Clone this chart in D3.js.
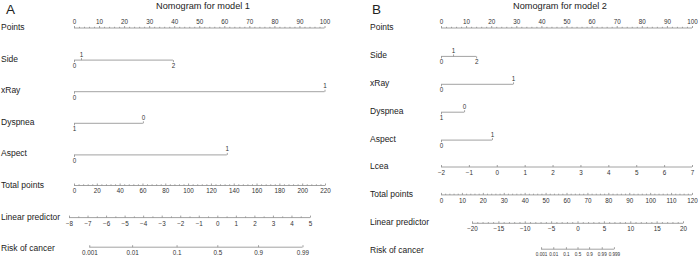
<!DOCTYPE html>
<html>
<head>
<meta charset="utf-8">
<script src="https://cdn.jsdelivr.net/npm/d3@7"></script>
<style>
  body { margin: 0; background: #fff; }
  svg text { font-family: "Liberation Sans", Arial, Helvetica, sans-serif; fill: #222; }
  .axis path, .axis line { stroke: #8a8a8a; stroke-width: 0.8; }
  .axis .domain { display: none; }
  .axis text { font-size: 6.3px; fill: #333; }
  .bar { stroke: #8a8a8a; stroke-width: 0.8; }
  .row-label { font-size: 8.5px; }
  .title { font-size: 9.2px; }
  .panel { font-size: 13.5px; }
</style>
</head>
<body>
<svg id="chart" width="698" height="258"></svg>
<script>
// ---- model 1 (panel A) ----
const rowsA = ['Points', 'Side', 'xRay', 'Dyspnea', 'Aspect', 'Total points', 'Linear predictor', 'Risk of cancer'];
const pointTicks = d3.range(0, 101, 10);
const sideA = [{ level: '0', pts: 0 }, { level: '1', pts: 2.8 }, { level: '2', pts: 39.5 }];
const xRayA = [{ level: '0', pts: 0 }, { level: '1', pts: 100 }];
const dyspneaA = [{ level: '1', pts: 0 }, { level: '0', pts: 27.5 }];
const aspectA = [{ level: '0', pts: 0 }, { level: '1', pts: 61 }];
const totalTicksA = d3.range(0, 221, 20);
const lpTicksA = d3.range(-8, 6, 1);
const riskTicksA = [0.001, 0.01, 0.1, 0.5, 0.9, 0.99];

// ---- model 2 (panel B) ----
const rowsB = ['Points', 'Side', 'xRay', 'Dyspnea', 'Aspect', 'Lcea', 'Total points', 'Linear predictor', 'Risk of cancer'];
const sideB = [{ level: '0', pts: 0 }, { level: '1', pts: 4.8 }, { level: '2', pts: 14 }];
const xRayB = [{ level: '0', pts: 0 }, { level: '1', pts: 28.7 }];
const dyspneaB = [{ level: '1', pts: 0 }, { level: '0', pts: 9.2 }];
const aspectB = [{ level: '0', pts: 0 }, { level: '1', pts: 20.3 }];
const lceaTicksB = d3.range(-2, 8, 1);
const totalTicksB = d3.range(0, 121, 10);
const lpTicksB = d3.range(-20, 21, 5);
const riskTicksB = [0.001, 0.01, 0.1, 0.5, 0.9, 0.99, 0.999];

const svg = d3.select('#chart');
const logit = p => Math.log(p / (1 - p));
const minus = d => d3.format('d')(d).replace('-', '\u2212');

// minor ticks between labelled ticks
function minorTicks(ticks, n) {
  const out = [];
  for (let i = 0; i < ticks.length - 1; i++) {
    const step = (ticks[i + 1] - ticks[i]) / n;
    for (let k = 1; k < n; k++) out.push(ticks[i] + k * step);
  }
  return out;
}

// continuous axis: line + minor ticks + labelled ticks, labels above or below
function contAxis(g, scale, y, ticks, nMinor, above, fmt) {
  const a = g.append('g').attr('class', 'axis').attr('transform', `translate(0,${y})`);
  a.append('line').attr('class', 'bar')
      .attr('x1', scale(ticks[0]))
      .attr('x2', scale(ticks[ticks.length - 1]));
  if (nMinor > 1) {
    a.append('g').call(d3.axisBottom(scale).tickValues(minorTicks(ticks, nMinor))
        .tickSize(-1.2).tickSizeOuter(0).tickFormat(''));
  }
  const ax = above ? d3.axisTop(scale).tickSize(2).tickPadding(2)
                   : d3.axisBottom(scale).tickSize(-2).tickPadding(3.5);
  a.append('g').call(ax.tickValues(ticks).tickSizeOuter(0).tickFormat(fmt || (d => d)));
  return a;
}

// categorical axis: labels alternate below / above, ticks point toward the label
function catAxis(g, scale, y, levels) {
  const a = g.append('g').attr('class', 'axis').attr('transform', `translate(0,${y})`);
  const ext = d3.extent(levels, d => d.pts);
  a.append('line').attr('class', 'bar').attr('x1', scale(ext[0])).attr('x2', scale(ext[1]));
  const sorted = levels.slice().sort((p, q) => p.pts - q.pts);
  const below = sorted.filter((d, i) => i % 2 === 0);
  const above = sorted.filter((d, i) => i % 2 === 1);
  a.append('g').call(d3.axisBottom(scale).tickValues(below.map(d => d.pts)).tickSize(2).tickPadding(1.5)
      .tickSizeOuter(0).tickFormat((d, i) => below[i].level));
  a.append('g').call(d3.axisTop(scale).tickValues(above.map(d => d.pts)).tickSize(2).tickPadding(1.5)
      .tickSizeOuter(0).tickFormat((d, i) => above[i].level));
}

function rowLabels(g, rows, x, y0, gap) {
  g.selectAll('.row-label').data(rows).join('text')
      .attr('class', 'row-label')
      .attr('x', x)
      .attr('y', (d, i) => y0 + i * gap)
      .attr('dy', '0.35em')
      .text(d => d);
}

// ---------- panel A ----------
const gA = svg.append('g');
const gapA = 31.6;
const yA = i => 27 + i * gapA;
gA.append('text').attr('class', 'panel').attr('x', 6).attr('y', 14).text('A');
gA.append('text').attr('class', 'title').attr('x', 203).attr('y', 8.5).attr('text-anchor', 'middle')
    .text('Nomogram for model 1');
rowLabels(gA, rowsA, 1, 27, gapA);

const ptsA = d3.scaleLinear().domain([0, 100]).range([74, 324.5]);
const totA = d3.scaleLinear().domain([0, 220]).range([74, 325]);
const lpA = d3.scaleLinear().domain([-8, 5]).range([69, 310]);

contAxis(gA, ptsA, yA(0) + 1, pointTicks, 5, true);
catAxis(gA, ptsA, yA(1) + 1.5, sideA);
catAxis(gA, ptsA, yA(2) + 1.5, xRayA);
catAxis(gA, ptsA, yA(3) + 1.5, dyspneaA);
catAxis(gA, ptsA, yA(4) + 1.5, aspectA);
contAxis(gA, totA, yA(5) + 0.5, totalTicksA, 5, false);
contAxis(gA, lpA, yA(6) + 1, lpTicksA, 2, false, minus);
contAxis(gA, lpA, yA(7) - 1, riskTicksA.map(logit), 1, false, (d, i) => riskTicksA[i]);

// ---------- panel B ----------
const gB = svg.append('g');
const gapB = 27.9;
const yB = i => 27 + i * gapB;
gB.append('text').attr('class', 'panel').attr('x', 372).attr('y', 14).text('B');
gB.append('text').attr('class', 'title').attr('x', 560).attr('y', 8.5).attr('text-anchor', 'middle')
    .text('Nomogram for model 2');
rowLabels(gB, rowsB, 370, 27, gapB);

const ptsB = d3.scaleLinear().domain([0, 100]).range([441, 692]);
const lceaB = d3.scaleLinear().domain([-2, 7]).range([441, 692]);
const totB = d3.scaleLinear().domain([0, 120]).range([441, 692]);
const lpB = d3.scaleLinear().domain([-20, 20]).range([472, 683]);

contAxis(gB, ptsB, yB(0) + 1, pointTicks, 5, true);
catAxis(gB, ptsB, yB(1) + 1.5, sideB);
catAxis(gB, ptsB, yB(2) + 1.5, xRayB);
catAxis(gB, ptsB, yB(3) + 1.5, dyspneaB);
catAxis(gB, ptsB, yB(4) + 1.5, aspectB);
contAxis(gB, lceaB, yB(5) + 0.5, lceaTicksB, 1, false, minus);
contAxis(gB, totB, yB(6) + 0.5, totalTicksB, 5, false);
contAxis(gB, lpB, yB(7) + 1, lpTicksB, 5, false, minus);
const riskAxB = contAxis(gB, lpB, yB(8) - 1, riskTicksB.map(logit), 1, false, (d, i) => riskTicksB[i]);
riskAxB.selectAll('text').style('font-size', '4.6px');
</script>
</body>
</html>
